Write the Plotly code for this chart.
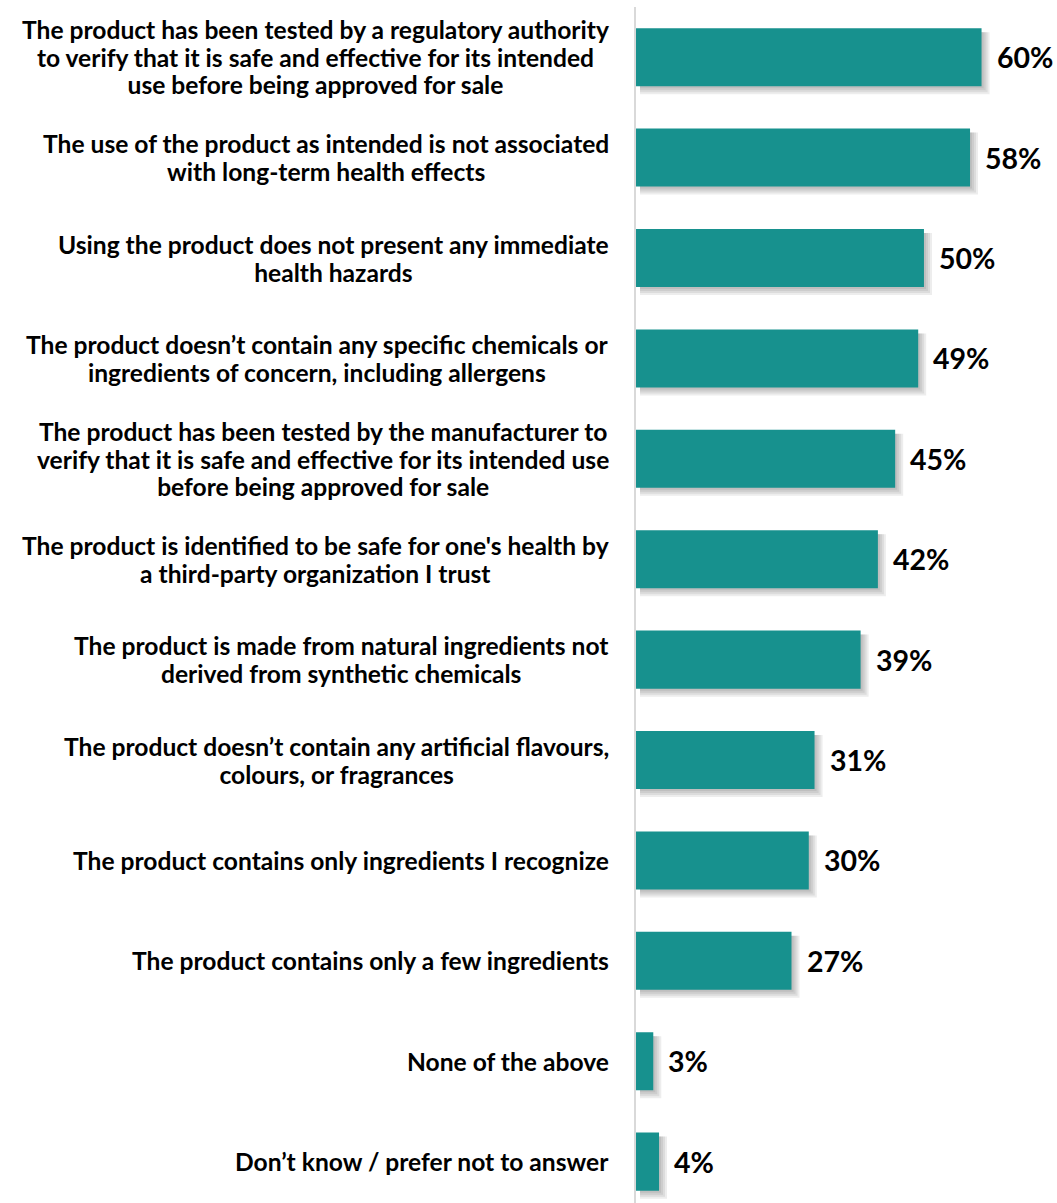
import plotly.graph_objects as go

# Survey responses: what makes a product "safe" (share of respondents, %)
statements = [
    "The product has been tested by a regulatory authority<br>to verify that it is safe and effective for its intended<br>use before being approved for sale",
    "The use of the product as intended is not associated<br>with long-term health effects",
    "Using the product does not present any immediate<br>health hazards",
    "The product doesn’t contain any specific chemicals or<br>ingredients of concern, including allergens",
    "The product has been tested by the manufacturer to<br>verify that it is safe and effective for its intended use<br>before being approved for sale",
    "The product is identified to be safe for one's health by<br>a third-party organization I trust",
    "The product is made from natural ingredients not<br>derived from synthetic chemicals",
    "The product doesn’t contain any artificial flavours,<br>colours, or fragrances",
    "The product contains only ingredients I recognize",
    "The product contains only a few ingredients",
    "None of the above",
    "Don’t know / prefer not to answer",
]
shares = [60, 58, 50, 49, 45, 42, 39, 31, 30, 27, 3, 4]

W, H = 1057, 1203
M_L, M_T = 636, 7
X_MAX = 73.1
Y_TOP, Y_BOTTOM = -0.5, 11.412
BAR_WIDTH = 0.578
TEAL = "#17918E"
FONT = "Lato"
LABEL_PX = 24.6    # glyph size of the category labels
LINE_BASE = 21.2   # base size that sets the 1.3em line pitch of the labels

px_per_x = (W - M_L) / X_MAX
px_per_y = (H - M_T) / (Y_BOTTOM - Y_TOP)

idx = list(range(len(statements)))

fig = go.Figure(
    go.Bar(
        x=shares,
        y=idx,
        orientation="h",
        width=BAR_WIDTH,
        marker=dict(color=TEAL, line=dict(width=0)),
        hoverinfo="skip",
    )
)

# soft drop shadow under each bar (stacked translucent rectangles)
shapes = []
for i, v in zip(idx, shares):
    for k in (2, 4, 6, 8):
        shapes.append(dict(
            type="rect", layer="below", xref="x", yref="y",
            x0=4 / px_per_x,
            x1=v + k / px_per_x,
            y0=i - BAR_WIDTH / 2 + 4 / px_per_y,
            y1=i + BAR_WIDTH / 2 + k / px_per_y,
            fillcolor="rgba(60,60,60,0.09)", line=dict(width=0),
        ))


def sized(label):
    return "<br>".join(
        f'<span style="font-size:{LABEL_PX}px">{part}</span>'
        for part in label.split("<br>")
    )


annotations = []
for i, (s, v) in enumerate(zip(statements, shares)):
    annotations.append(dict(
        xref="paper", yref="y", x=0, y=i, xanchor="right", yanchor="middle",
        xshift=-25, text=sized(s), align="center", showarrow=False,
        font=dict(family=FONT, size=LINE_BASE, color="#000000", weight=700),
    ))
    annotations.append(dict(
        xref="x", yref="y", x=v, y=i, xanchor="left", yanchor="middle",
        xshift=13, text=f"{v}%", showarrow=False,
        font=dict(family=FONT, size=28.5, color="#000000", weight=700),
    ))

fig.update_layout(
    width=W, height=H,
    margin=dict(l=M_L, r=0, t=M_T, b=0),
    paper_bgcolor="white", plot_bgcolor="white",
    showlegend=False,
    shapes=shapes,
    annotations=annotations,
    xaxis=dict(range=[0, X_MAX], visible=False, fixedrange=True),
    yaxis=dict(
        range=[Y_BOTTOM, Y_TOP], showticklabels=False, showgrid=False,
        zeroline=False, showline=True, linecolor="#D9D9D9", linewidth=2,
        ticks="", fixedrange=True,
    ),
)

fig.write_html("out.html")
